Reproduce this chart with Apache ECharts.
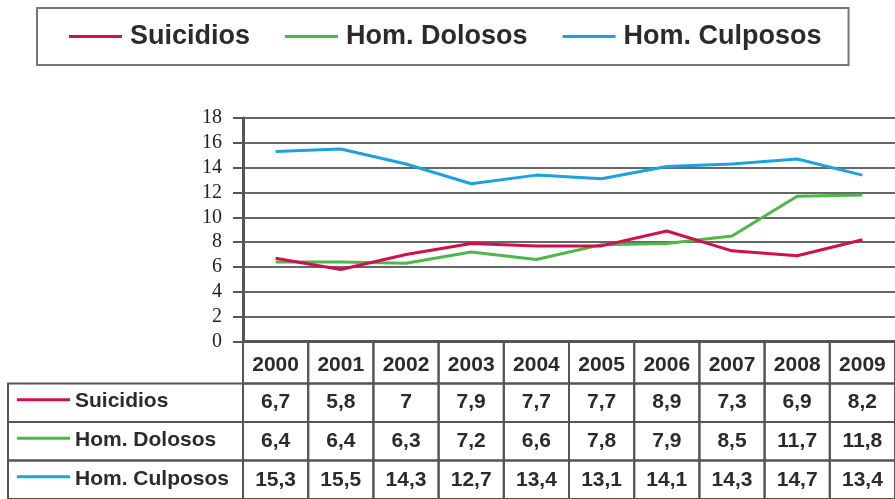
<!DOCTYPE html>
<html>
<head>
<meta charset="utf-8">
<script src="https://cdn.jsdelivr.net/npm/echarts@6/dist/echarts.min.js"></script>
<style>
html,body{margin:0;padding:0;background:#fff;}
#c{width:895px;height:499px;}
</style>
</head>
<body>
<div id="c"></div>
<script>
var years = ['2000','2001','2002','2003','2004','2005','2006','2007','2008','2009'];
var seriesNames = ['Suicidios','Hom. Dolosos','Hom. Culposos'];
var suicidios = [6.7, 5.8, 7, 7.9, 7.7, 7.7, 8.9, 7.3, 6.9, 8.2];
var homDolosos = [6.4, 6.4, 6.3, 7.2, 6.6, 7.8, 7.9, 8.5, 11.7, 11.8];
var homCulposos = [15.3, 15.5, 14.3, 12.7, 13.4, 13.1, 14.1, 14.3, 14.7, 13.4];
var yTicks = [0, 2, 4, 6, 8, 10, 12, 14, 16, 18];

var colors = ['#d0104c', '#4db848', '#1aa3de'];
var allSeries = [suicidios, homDolosos, homCulposos];

function fmt(v){ return String(v).replace('.', ','); }

// table cells: [col, row, text]; row -1 = header
var cells = [];
years.forEach(function(y, c){ cells.push({c:c, r:-1, text:y, kind:'head'}); });
allSeries.forEach(function(arr, r){
  cells.push({c:0, r:r, text:seriesNames[r], kind:'label'});
  arr.forEach(function(v, c){ cells.push({c:c, r:r, text:fmt(v), kind:'val'}); });
});

var LINE = '#555';
var FONT = 'Liberation Sans, Arial, sans-serif';

var chart = echarts.init(document.getElementById('c'));
chart.setOption({
  animation: false,
  color: colors,
  legend: {
    left: 37, top: 8,
    padding: [15, 27, 15, 32],
    borderColor: '#777', borderWidth: 2,
    itemGap: 35,
    itemWidth: 53, itemHeight: 3,
    icon: 'rect',
    data: seriesNames,
    textStyle: {fontFamily: FONT, fontWeight: 'bold', fontSize: 27, color: '#2b2b2b', padding: [4, 0, 0, 3]}
  },
  grid: [
    {left: 243, top: 118, width: 655, height: 223.5, containLabel: false},
    {left: 243, top: 341, width: 655, height: 164, containLabel: false}
  ],
  xAxis: [
    {type: 'category', gridIndex: 0, data: years, boundaryGap: true,
     axisLine: {show: true, lineStyle: {color: LINE, width: 3}},
     axisTick: {show: false}, axisLabel: {show: false}, splitLine: {show: false}},
    {type: 'category', gridIndex: 1, data: years, boundaryGap: true, show: false}
  ],
  yAxis: [
    {type: 'value', gridIndex: 0, min: yTicks[0], max: yTicks[yTicks.length-1], interval: 2,
     axisLine: {show: true, lineStyle: {color: LINE, width: 3}},
     axisTick: {show: true, length: 10, lineStyle: {color: LINE, width: 2}},
     axisLabel: {margin: 21, fontFamily: 'Liberation Serif, Times New Roman, serif', fontSize: 20, color: '#222'},
     splitLine: {show: true, lineStyle: {color: '#666', width: 2}}},
    {type: 'value', gridIndex: 1, min: -1.1, max: 3, inverse: true, show: false}
  ],
  series: [
    {name: seriesNames[0], type: 'line', xAxisIndex: 0, yAxisIndex: 0, data: suicidios, showSymbol: false, symbol: 'none', lineStyle: {width: 3, color: colors[0]}, z: 5},
    {name: seriesNames[1], type: 'line', xAxisIndex: 0, yAxisIndex: 0, data: homDolosos, showSymbol: false, symbol: 'none', lineStyle: {width: 3, color: colors[1]}, z: 4},
    {name: seriesNames[2], type: 'line', xAxisIndex: 0, yAxisIndex: 0, data: homCulposos, showSymbol: false, symbol: 'none', lineStyle: {width: 3, color: colors[2]}, z: 3},
    {
      type: 'custom', xAxisIndex: 1, yAxisIndex: 1, clip: false, silent: true,
      data: cells.map(function(d){ return [d.c, d.r]; }),
      renderItem: function(params, api){
        var d = cells[params.dataIndex];
        var y0v = d.r < 0 ? -1.1 : d.r;
        var y1v = d.r < 0 ? 0 : d.r + 1;
        var p0 = api.coord([d.c, y0v]);
        var p1 = api.coord([d.c, y1v]);
        var w = api.size([1, 0])[0];
        var top = p0[1], h = p1[1] - p0[1];
        var cx = p0[0], cy = top + h / 2;
        if (d.kind === 'label') {
          var labelW = 235;
          var x0 = cx - w / 2 - labelW;
          return {type: 'group', children: [
            {type: 'rect', shape: {x: x0, y: top, width: labelW, height: h}, style: {fill: 'none', stroke: LINE, lineWidth: 2}},
            {type: 'line', shape: {x1: x0 + 9, y1: cy - 3, x2: x0 + 62, y2: cy - 3}, style: {stroke: colors[d.r], lineWidth: 3}},
            {type: 'text', style: {x: x0 + 67, y: cy - 1, text: d.text, align: 'left', verticalAlign: 'middle', fontFamily: FONT, fontWeight: 'bold', fontSize: 21, fill: '#2b2b2b'}}
          ]};
        }
        return {type: 'group', children: [
          {type: 'rect', shape: {x: cx - w / 2, y: top, width: w, height: h}, style: {fill: 'none', stroke: LINE, lineWidth: 2}},
          {type: 'text', style: {x: cx, y: cy + (d.kind === 'head' ? 3 : 0), text: d.text, align: 'center', verticalAlign: 'middle', fontFamily: FONT, fontWeight: 'bold', fontSize: 21, fill: '#2b2b2b'}}
        ]};
      }
    }
  ]
});
</script>
</body>
</html>
